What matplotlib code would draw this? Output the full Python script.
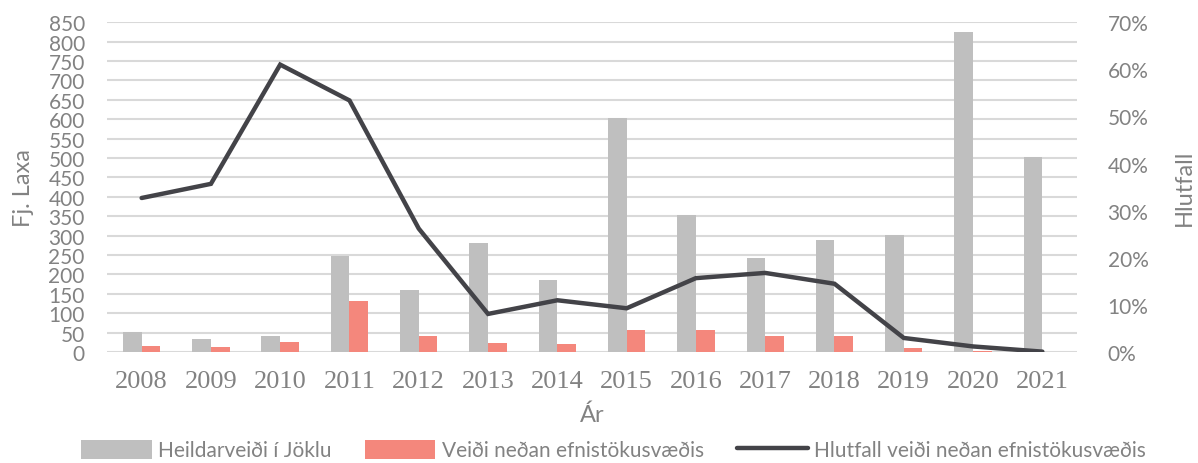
import numpy as np
import matplotlib.pyplot as plt
from matplotlib.ticker import FuncFormatter

years = ['2008', '2009', '2010', '2011', '2012', '2013', '2014',
         '2015', '2016', '2017', '2018', '2019', '2020', '2021']
heildarveidi = [51, 33, 42, 248, 160, 282, 186, 603, 352, 243, 288, 301, 825, 502]
veidi_nedan = [17, 13, 27, 132, 42, 24, 21, 57, 57, 42, 42, 10, 3, 1]
hlutfall = [32.7, 35.7, 61.0, 53.4, 26.2, 8.1, 11.0, 9.3, 15.7, 16.8, 14.5, 3.0, 1.2, 0.1]

grey = '#bfbfbf'
salmon = '#f4877c'
dark = '#434348'
txt = '#828282'

plt.rcParams['font.family'] = ['Lato', 'DejaVu Sans']

fig = plt.figure(figsize=(11.98, 4.64), dpi=100)
ax = fig.add_axes([0.0893, 0.239, 0.8097, 0.711])
ax2 = ax.twinx()

x = np.arange(len(years))
w = 0.27
b1 = ax.bar(x - w / 2, heildarveidi, w, color=grey, label='Heildarveiði í Jöklu', zorder=2)
b2 = ax.bar(x + w / 2, veidi_nedan, w, color=salmon, label='Veiði neðan efnistökusvæðis', zorder=2)
l1, = ax2.plot(x, hlutfall, color=dark, lw=3.2, solid_capstyle='round',
               solid_joinstyle='miter', label='Hlutfall veiði neðan efnistökusvæðis')

ax.set_xlim(-0.5, len(years) - 0.5)
ax.set_ylim(0, 850)
ax.set_yticks(np.arange(0, 851, 50))
ax2.set_ylim(0, 70)
ax2.set_yticks(np.arange(0, 71, 10))
ax2.yaxis.set_major_formatter(FuncFormatter(lambda v, p: '%d%%' % v))

ax.grid(axis='y', color='#d9d9d9', lw=1.5, zorder=0)
ax.set_axisbelow(True)
for a in (ax, ax2):
    for s in a.spines.values():
        s.set_visible(False)
    a.tick_params(length=0, colors=txt, labelsize=15)

ax.tick_params(axis='y', pad=16)
ax2.tick_params(axis='y', pad=22)
ax.set_xticks(x)
ax.set_xticklabels(years, family=['Liberation Serif', 'DejaVu Serif'], fontsize=19, color=txt)
ax.tick_params(axis='x', pad=13)

ax.set_xlabel('Ár', fontsize=17, color=txt, labelpad=8)
ax.set_ylabel('Fj. Laxa', fontsize=17, color=txt, labelpad=10)
ax2.set_ylabel('Hlutfall', fontsize=17, color=txt, labelpad=18)

fig.legend(handles=[b1, b2, l1], loc='lower center', bbox_to_anchor=(0.512, -0.035),
           ncol=3, frameon=False, fontsize=15, handlelength=3.4, handleheight=1.0,
           handletextpad=0.3, columnspacing=1.6, labelcolor=txt)

fig.savefig('out.png', dpi=100)
